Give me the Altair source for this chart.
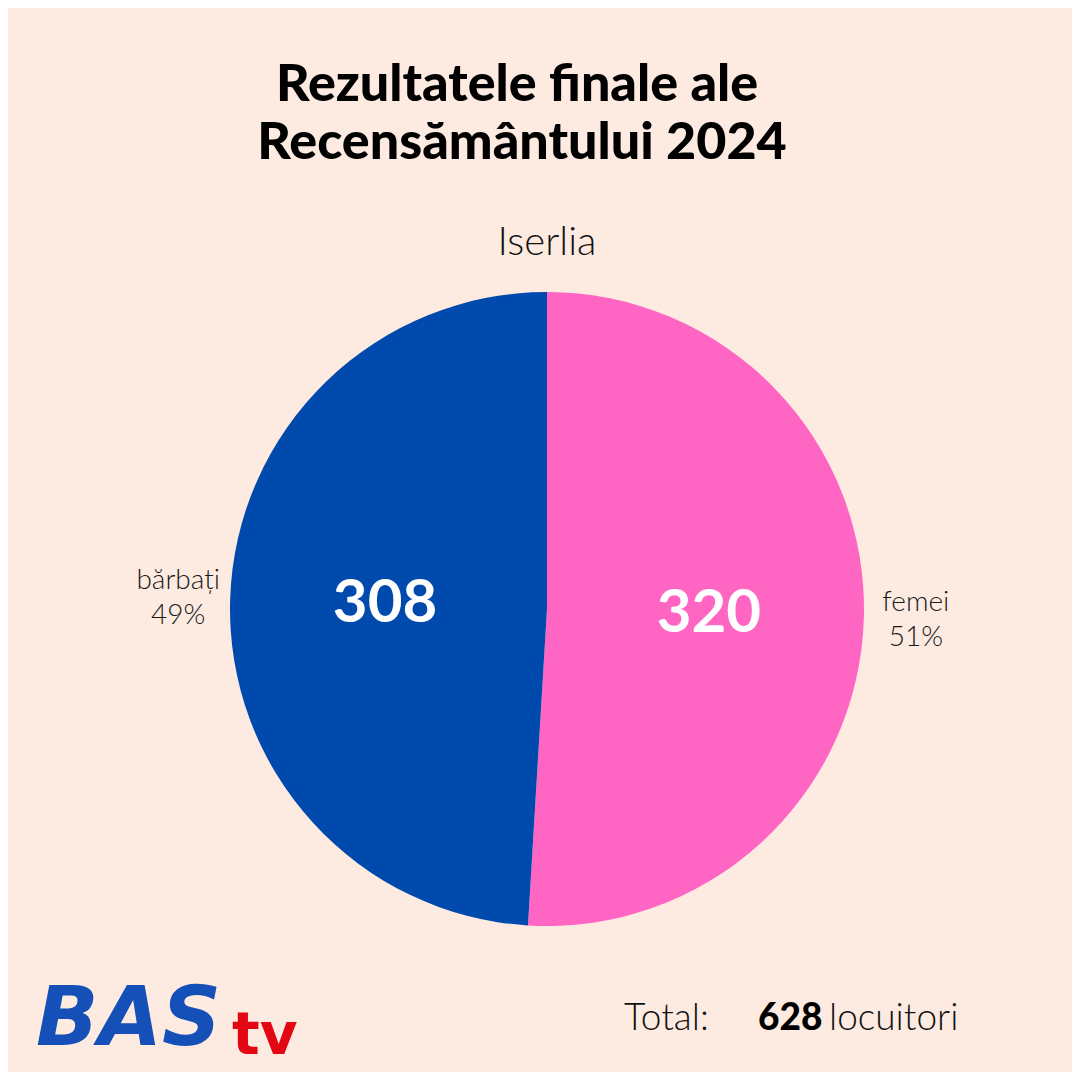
import altair as alt
import pandas as pd

categories = ["femei", "bărbați"]
values = [320, 308]
colors = ["#FF66C4", "#004AAD"]
title_lines = ["Rezultatele finale ale", "Recensământului 2024"]
subtitle = "Iserlia"
total_label = "Total:"
total_unit = "locuitori"

total = sum(values)
df = pd.DataFrame({
    "cat": categories,
    "val": values,
    "ord": list(range(len(categories))),
    "label": [f"{c}\n{round(v / total * 100)}%" for c, v in zip(categories, values)],
    "num": [str(v) for v in values],
})

BG = "#FDEAE0"
CX, CY, R = 539, 601, 317

base = alt.Chart(df).encode(
    theta=alt.Theta("val:Q", stack=True),
    order=alt.Order("ord:Q"),
)

pie = base.mark_arc(outerRadius=R).encode(
    color=alt.Color("cat:N", scale=alt.Scale(domain=categories, range=colors), legend=None),
    x=alt.value(CX), y=alt.value(CY),
)

nums = base.mark_text(radius=162, font="Lato", fontWeight="bold", fontSize=60,
                      color="white", baseline="middle", align="center").encode(
    text="num:N", x=alt.value(CX), y=alt.value(CY),
)

outer = base.mark_text(radius=369, font="Lato", fontWeight=300, fontSize=28, lineHeight=35,
                       color="#1a1a1a", baseline="middle", align="center", dy=-17,
                       lineBreak="\n").encode(
    text="label:N", x=alt.value(CX), y=alt.value(CY),
)

def txt(s, x, y, size, weight="normal", color="#111111", align="center", font="Lato", style="normal"):
    return alt.Chart(pd.DataFrame({"t": [s]})).mark_text(
        font=font, fontSize=size, fontWeight=weight, color=color,
        align=align, baseline="middle", fontStyle=style,
    ).encode(text="t:N", x=alt.value(x), y=alt.value(y))

layers = [
    pie, nums, outer,
    txt(title_lines[0], 509, 77, 52, 900, "#000000"),
    txt(title_lines[1], 514, 135, 52, 900, "#000000"),
    txt(subtitle, 539, 235, 40, 300, "#111111"),
    txt(total_label, 616, 1011, 37, 300, "#111111", "left"),
    txt(str(total), 750, 1011, 37, 900, "#000000", "left"),
    txt(total_unit, 821, 1011, 37, 300, "#111111", "left"),
    txt("BAS", 28, 1012, 82, "bold", "#1550B8", "left", "DejaVu Sans", "italic"),
    txt("tv", 224, 1029, 58, "bold", "#E30613", "left", "DejaVu Sans", "normal"),
]

chart = alt.layer(*layers).properties(
    width=1064, height=1064, background=BG, padding=0,
    autosize=alt.AutoSizeParams(type="none"),
).configure_view(stroke=None)

chart.save("out.html", embed_options={"renderer": "svg", "actions": False})
